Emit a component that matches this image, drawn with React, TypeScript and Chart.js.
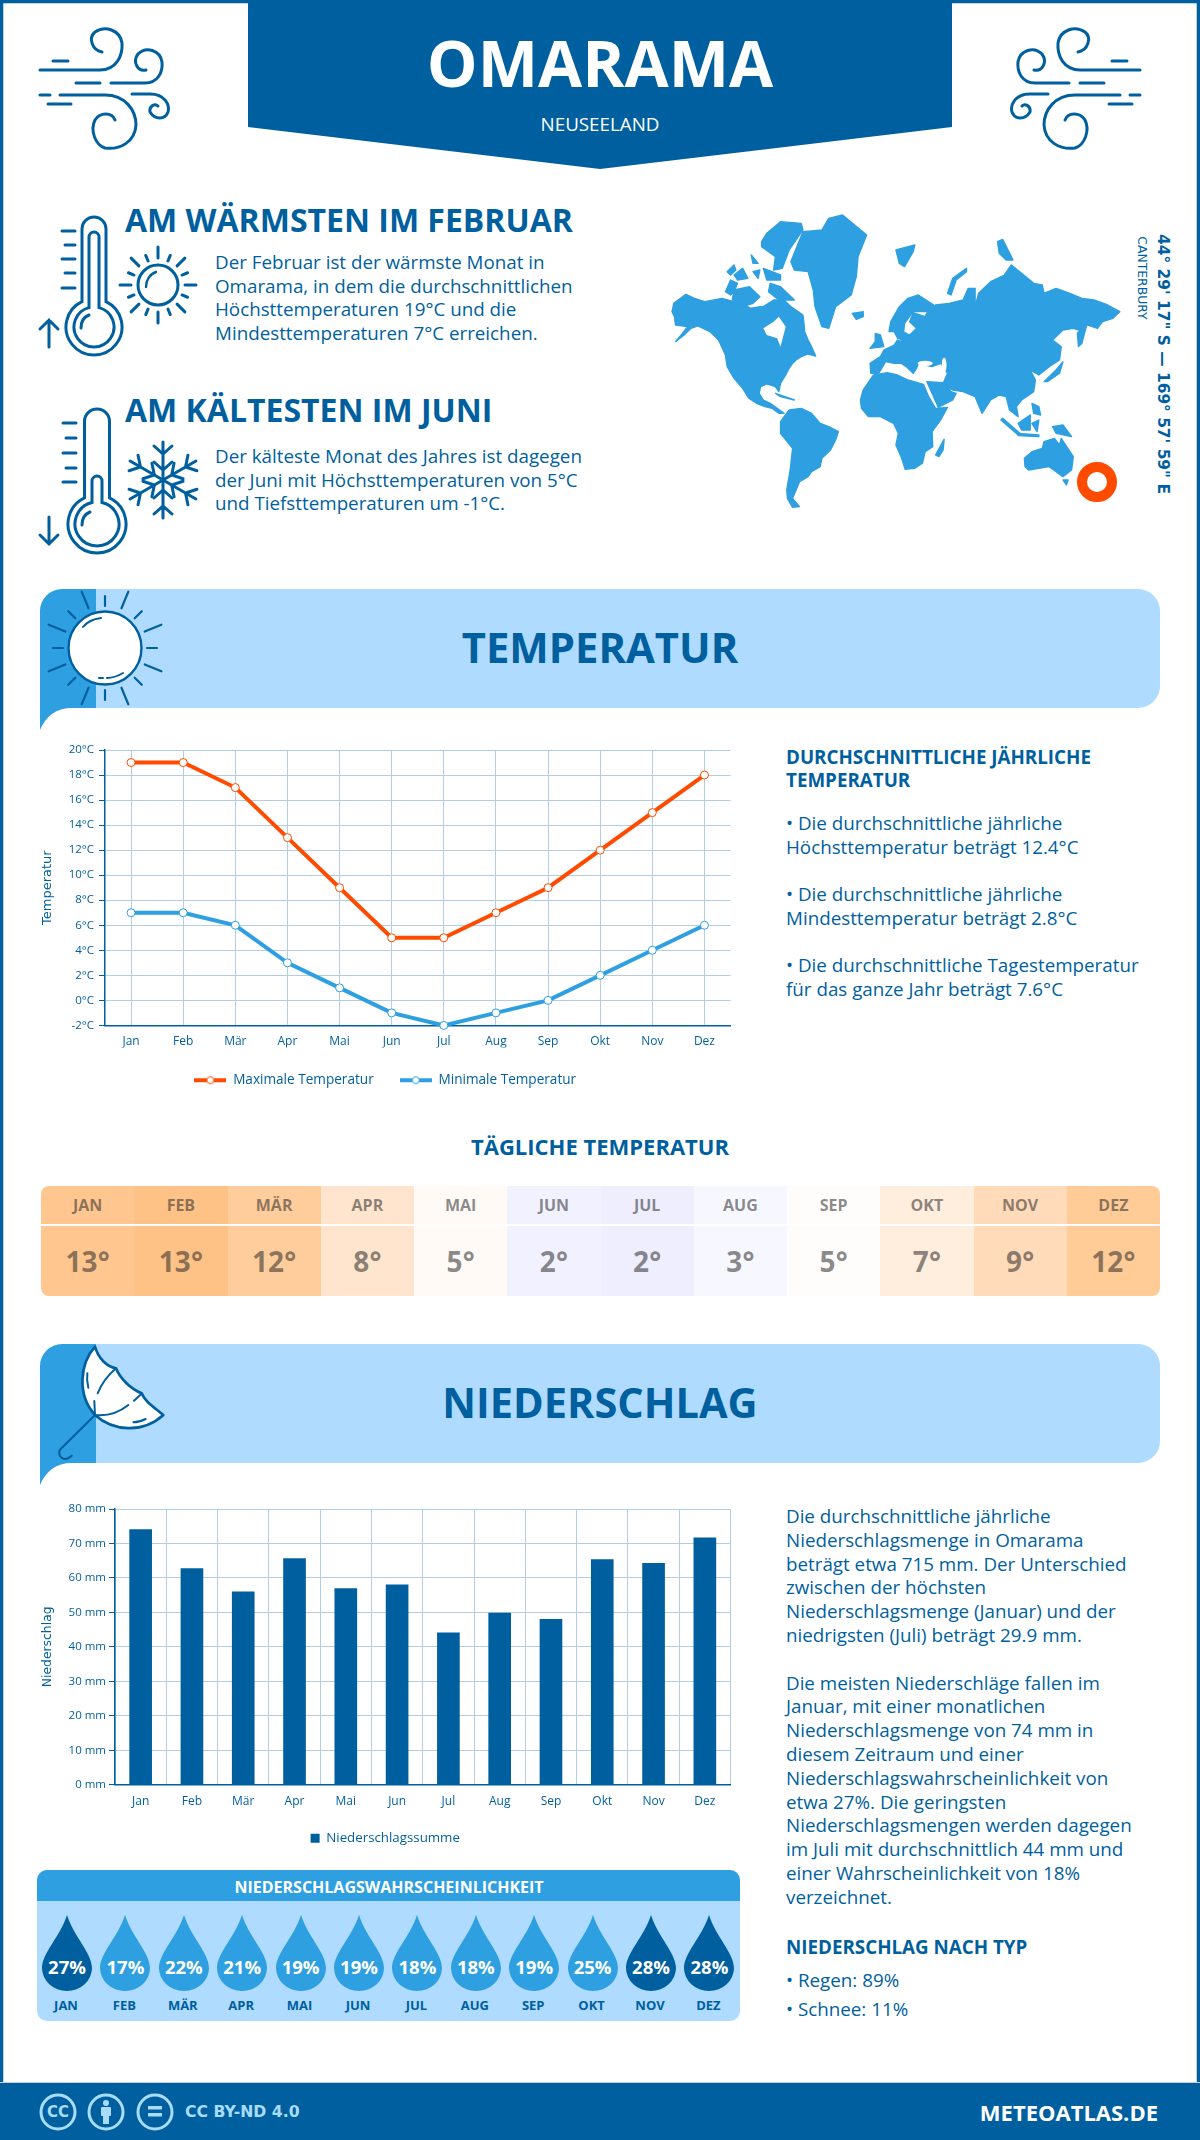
import React, { useEffect, useRef } from "react";
import { Chart, registerables } from "chart.js";
Chart.register(...registerables);

const months = ["Jan", "Feb", "Mär", "Apr", "Mai", "Jun", "Jul", "Aug", "Sep", "Okt", "Nov", "Dez"];
const monthsUpper = ["JAN", "FEB", "MÄR", "APR", "MAI", "JUN", "JUL", "AUG", "SEP", "OKT", "NOV", "DEZ"];
const maxTemp = [19, 19, 17, 13, 9, 5, 5, 7, 9, 12, 15, 18];
const minTemp = [7, 7, 6, 3, 1, -1, -2, -1, 0, 2, 4, 6];
const dailyTemp = [13, 13, 12, 8, 5, 2, 2, 3, 5, 7, 9, 12];
const dailyColors = ["#ffc68f", "#ffc286", "#ffcd9b", "#ffe5cd", "#fffaf5", "#f1f1ff", "#eeeeff", "#f7f7ff", "#fffdfb", "#ffeddd", "#ffdbb9", "#ffcb97"];
const precipitation = [74, 62.7, 56, 65.6, 56.9, 58, 44.1, 49.8, 48, 65.3, 64.2, 71.6];
const rainChance = [27, 17, 22, 21, 19, 19, 18, 18, 19, 25, 28, 28];

const DARK = "#005f9e";
const MID = "#2e9fe0";
const LIGHT = "#aedbff";
const ORANGE = "#ff4b00";
const GRID = "#b3cee0";
const FONT = "'Open Sans'";

function T({ x, y, s, w = 400, c = DARK, a = "left", f = FONT, children, rot = 0, ls }: any) {
  const tx = a === "center" ? "-50%" : a === "right" ? "-100%" : "0";
  return (
    <div
      style={{
        position: "absolute",
        left: x,
        top: y,
        fontFamily: f,
        fontSize: s,
        fontWeight: w,
        color: c,
        lineHeight: 1,
        whiteSpace: "nowrap",
        letterSpacing: ls,
        transform: rot ? `translate(-50%,-50%) rotate(${rot}deg)` : `translate(${tx},-50%)`,
      }}
    >
      {children}
    </div>
  );
}

function lineMarker(color: string) {
  const c = document.createElement("canvas");
  c.width = 32;
  c.height = 12;
  const g = c.getContext("2d")!;
  g.fillStyle = color;
  g.fillRect(0, 4, 32, 4);
  g.beginPath();
  g.arc(16, 6, 3.5, 0, Math.PI * 2);
  g.fillStyle = "#fff";
  g.fill();
  g.strokeStyle = color;
  g.lineWidth = 1;
  g.stroke();
  return c;
}

function TempChart() {
  const ref = useRef<HTMLCanvasElement>(null);
  useEffect(() => {
    const chart = new Chart(ref.current!, {
      type: "line",
      data: {
        labels: months,
        datasets: [
          { label: "Maximale Temperatur", data: maxTemp, borderColor: ORANGE, backgroundColor: "#fff", borderWidth: 4, pointRadius: 4, pointBorderWidth: 1, pointBackgroundColor: "#fff", pointBorderColor: ORANGE, tension: 0 },
          { label: "Minimale Temperatur", data: minTemp, borderColor: MID, backgroundColor: "#fff", borderWidth: 4, pointRadius: 4, pointBorderWidth: 1, pointBackgroundColor: "#fff", pointBorderColor: MID, tension: 0 },
        ],
      },
      options: {
        animation: false,
        responsive: false,
        clip: false as any,
        layout: { padding: { left: 10, right: 19.5, top: 20, bottom: 0 } },
        plugins: {
          tooltip: { enabled: false },
          legend: {
            position: "bottom",
            labels: {
              usePointStyle: true,
              pointStyleWidth: 32,
              boxHeight: 12,
              padding: 26,
              color: DARK,
              font: { family: FONT, size: 13.6 },
              generateLabels: () => [
                { text: "Maximale Temperatur", pointStyle: lineMarker(ORANGE), fontColor: DARK, lineWidth: 0, strokeStyle: "transparent", fillStyle: "transparent", datasetIndex: 0 },
                { text: "Minimale Temperatur", pointStyle: lineMarker(MID), fontColor: DARK, lineWidth: 0, strokeStyle: "transparent", fillStyle: "transparent", datasetIndex: 1 },
              ] as any,
            },
          },
        },
        scales: {
          x: {
            offset: true,
            grid: { color: GRID, drawTicks: false, offset: false },
            border: { color: DARK, width: 1.5 },
            ticks: { color: DARK, font: { family: FONT, size: 12 }, padding: 9, maxRotation: 0 },
            afterFit: (s: any) => { s.height = 22; },
          },
          y: {
            min: -2,
            max: 20,
            title: { display: true, text: "Temperatur", color: DARK, font: { family: "'DejaVu Sans'", size: 13 }, padding: 0 },
            grid: { color: GRID, tickColor: DARK, tickLength: 6 },
            border: { color: DARK, width: 1.5 },
            ticks: { stepSize: 2, color: DARK, font: { family: FONT, size: 11.5 }, padding: 5, callback: (v: any) => `${v}°C` },
            afterFit: (s: any) => { s.width = 65; },
          },
        },
      },
    });
    return () => chart.destroy();
  }, []);
  return <canvas ref={ref} width={720} height={367} style={{ position: "absolute", left: 30, top: 730 }} />;
}

function RainChart() {
  const ref = useRef<HTMLCanvasElement>(null);
  useEffect(() => {
    const chart = new Chart(ref.current!, {
      type: "bar",
      data: {
        labels: months,
        datasets: [{ label: "Niederschlagssumme", data: precipitation, backgroundColor: DARK, barThickness: 22 }],
      },
      options: {
        animation: false,
        responsive: false,
        layout: { padding: { left: 10, right: 19.5, top: 29, bottom: 0 } },
        plugins: {
          tooltip: { enabled: false },
          legend: {
            position: "bottom",
            labels: { boxWidth: 9, boxHeight: 9, padding: 16, color: DARK, font: { family: FONT, size: 13.3 } },
          },
        },
        scales: {
          x: {
            grid: { color: GRID, drawTicks: false, offset: true },
            border: { color: DARK, width: 1.5 },
            ticks: { color: DARK, font: { family: FONT, size: 12 }, padding: 10, maxRotation: 0 },
            afterFit: (s: any) => { s.height = 31; },
          },
          y: {
            min: 0,
            max: 80,
            title: { display: true, text: "Niederschlag", color: DARK, font: { family: "'DejaVu Sans'", size: 12.4 }, padding: 0 },
            grid: { color: GRID, tickColor: DARK, tickLength: 6 },
            border: { color: DARK, width: 1.5 },
            ticks: { stepSize: 10, color: DARK, font: { family: FONT, size: 11.5 }, padding: 3, callback: (v: any) => `${v} mm` },
            afterFit: (s: any) => { s.width = 75; },
          },
        },
      },
    });
    return () => chart.destroy();
  }, []);
  return <canvas ref={ref} width={720} height={375} style={{ position: "absolute", left: 30, top: 1480 }} />;
}

function Wind({ mirror }: { mirror?: boolean }) {
  return (
    <g transform={mirror ? "translate(1180 0) scale(-1 1)" : undefined} fill="none" stroke={DARK} strokeWidth={3} strokeLinecap="round">
      <path d="M40 70H100C116 70 123 56 122 43C120 30 105 25 95 32C88 38 92 50 102 52" />
      <path d="M53 61H68M76 83H100M111 83H145C158 83 163 72 162 62C160 50 146 46 138 54C132 62 138 72 146 70" />
      <path d="M40 95H50M60 95H105C125 95 136 110 136 125C135 142 120 150 105 148C95 145 90 130 95 120C100 112 112 112 115 120" />
      <path d="M132 94H150C165 94 170 105 168 112C165 120 155 120 150 112C149 106 155 103 158 106M48 104H71" />
    </g>
  );
}

function Thermo({ cx, cy, top, halfW, r, ir, tubeTop, tubeHalf, ticksX, ticks, arrow }: any) {
  const neckY = cy - Math.sqrt(r * r - halfW * halfW);
  const inNeck = cy - Math.sqrt(ir * ir - tubeHalf * tubeHalf);
  return (
    <g fill="none" stroke={DARK} strokeWidth={3} strokeLinecap="round">
      <path d={`M${cx - halfW} ${neckY}V${top + halfW}A${halfW} ${halfW} 0 0 1 ${cx + halfW} ${top + halfW}V${neckY}A${r} ${r} 0 1 1 ${cx - halfW} ${neckY}Z`} />
      <path d={`M${cx - tubeHalf} ${inNeck}V${tubeTop + tubeHalf}A${tubeHalf} ${tubeHalf} 0 0 1 ${cx + tubeHalf} ${tubeTop + tubeHalf}V${inNeck}A${ir} ${ir} 0 1 1 ${cx - tubeHalf} ${inNeck}Z`} />
      <path d={`M${cx - ir + 7} ${cy + 1}C${cx - ir + 7} ${cy - 5} ${cx - ir + 10} ${cy - 10} ${cx - ir + 15} ${cy - 12}`} />
      {ticks.map((y: number, i: number) => (
        <path key={i} d={`M${i % 2 ? ticksX + 3 : ticksX} ${y}H${ticksX + 13}`} />
      ))}
      {arrow === "up" ? <path d="M49 347V320M40 329L49 320L58 329" /> : <path d="M49 517V544M40 535L49 544L58 535" />}
    </g>
  );
}

function Rays({ cx, cy, r1s, r2s, r1l, r2l, w }: any) {
  return (
    <g stroke={DARK} strokeWidth={w} strokeLinecap="round">
      {Array.from({ length: 16 }, (_, i) => {
        const a = (i * 22.5 * Math.PI) / 180;
        const long = i % 2 === 1;
        const r1 = long ? r1l : r1s;
        const r2 = long ? r2l : r2s;
        return <line key={i} x1={cx + r1 * Math.sin(a)} y1={cy - r1 * Math.cos(a)} x2={cx + r2 * Math.sin(a)} y2={cy - r2 * Math.cos(a)} />;
      })}
    </g>
  );
}

function Snow({ cx, cy }: any) {
  return (
    <g stroke={DARK} strokeWidth={3} strokeLinecap="round" fill="none">
      {[0, 60, 120, 180, 240, 300].map((d) => (
        <g key={d} transform={`translate(${cx} ${cy}) rotate(${d})`}>
          <path d="M0 0V-38M-9 -34L0 -26L9 -34M-9 -18L0 -10L9 -18" />
        </g>
      ))}
    </g>
  );
}

const mapShapes = [
  "35,335 40,310 75,283 100,295 130,305 180,295 215,305 240,310 262,325 290,320 300,320 330,300 360,300 380,320 415,345 418,370 420,395 430,420 440,440 452,468 430,462 410,470 395,480 385,490 372,510 365,525 350,550 345,575 335,560 310,552 292,560 288,580 300,600 320,610 340,625 360,640 345,640 325,625 305,620 280,610 258,595 240,565 215,535 195,500 190,465 170,420 145,395 110,378 90,385 70,405 45,425 65,400 80,380 45,375 42,350",
  "350,665 375,630 410,625 440,640 465,670 490,680 518,695 510,720 495,750 470,775 465,800 440,815 430,830 405,845 395,870 385,895 405,920 385,922 370,895 368,870 378,810 385,745 350,700",
  "380,185 415,95 470,90 490,55 530,45 565,75 600,105 575,170 570,230 555,285 510,320 490,385 470,380 450,320 445,270 430,215 390,210",
  "310,100 350,65 410,70 415,90 375,150 355,205 330,210 335,170 295,140 295,125",
  "195,215 215,195 220,210 205,225",
  "215,225 240,205 255,235 225,240",
  "190,275 205,240 225,250 215,275 205,285",
  "265,165 285,190 270,190",
  "270,215 290,210 285,235",
  "300,205 350,225 350,240 310,240",
  "215,270 260,260 290,290 270,310 240,320 210,300",
  "320,250 350,260 390,300 345,300 315,275",
  "558,340 590,335 590,350 570,358",
  "625,400 640,405 650,440 610,445 625,425",
  "685,150 740,135 735,155 710,200 695,190",
  "835,280 850,235 890,205 890,215 860,240 845,285",
  "980,125 995,118 1025,180 1005,180 985,160",
  "1215,440 1212,400 1240,370 1225,430",
  "1115,545 1150,510 1170,485 1160,520 1125,545",
  "800,765 825,718 822,750 810,770",
  "995,655 1045,700 1040,705 990,660",
  "1040,700 1100,705 1100,710 1040,707",
  "1040,670 1075,645 1075,690 1050,690",
  "1080,670 1100,660 1095,695",
  "1140,680 1170,675 1195,710 1150,700",
  "1080,610 1100,620 1105,645 1085,640",
  "1170,840 1185,840 1180,855",
  "335,580 390,600 350,590",
  "612,520 610,490 640,470 650,450 680,435 690,420 700,425 705,395 725,405 745,385 725,365 735,338 770,350 782,325 800,315 840,310 880,300 895,265 915,265 915,320 925,280 960,245 1000,225 1020,195 1050,220 1085,250 1110,255 1115,280 1150,265 1190,280 1225,295 1260,300 1300,315 1335,335 1315,355 1285,365 1270,385 1240,375 1230,395 1200,385 1170,390 1140,420 1165,440 1160,480 1130,500 1100,525 1075,510 1090,540 1085,575 1050,600 1035,620 1040,650 1015,630 1005,590 985,585 960,600 935,640 915,590 880,575 850,570 820,555 835,520 815,490 790,500 750,490 745,505 735,520 715,500 700,490 680,490 655,485 635,520",
  "665,395 670,365 695,320 720,295 750,285 795,315 780,335 735,335 710,370 705,420 690,415 680,395",
  "582,600 590,570 620,525 660,518 690,525 720,540 765,553 780,590 800,625 835,622 815,660 790,695 792,740 770,755 762,790 740,805 712,808 700,770 685,735 692,700 678,670 640,650 605,650 585,625",
  "775,545 825,548 845,575 860,580 850,600 808,622",
  "1058,775 1080,755 1110,745 1115,725 1145,715 1160,735 1165,715 1200,770 1195,810 1170,830 1130,800 1070,810 1060,800",
];

function WorldMap() {
  return (
    <g transform="translate(660 200) scale(0.3444 0.3333)">
      {mapShapes.map((p, i) => (
        <polygon key={i} points={p} fill={MID} stroke={MID} strokeWidth={4} strokeLinejoin="round" />
      ))}
      <polygon points="300,385 330,365 345,350 365,380 360,400 350,440 340,415 310,405" fill="#fff" />
      <ellipse cx="770" cy="490" rx="22" ry="8" fill="#fff" />
      <ellipse cx="825" cy="495" rx="7" ry="22" fill="#fff" />
    </g>
  );
}

function Band({ y }: { y: number }) {
  const t = y;
  const b = y + 119;
  return (
    <g>
      <path d={`M62 ${t}H1138A22 22 0 0 1 1160 ${t + 22}V${b - 22}A22 22 0 0 1 1138 ${b}H96V${t}Z`} fill={LIGHT} />
      <path d={`M96 ${t}H62A22 22 0 0 0 40 ${t + 22}V${b + 22}C46 ${b + 8} 56 ${b} 72 ${b}H96Z`} fill={MID} />
    </g>
  );
}

function Umbrella() {
  return (
    <g transform="translate(30 1335) scale(0.3333)" stroke={DARK} strokeLinecap="round" strokeLinejoin="round" strokeWidth={8}>
      <path d="M195 35C150 85 140 180 195 240C250 290 340 295 400 240C370 215 345 200 335 175C300 160 270 130 258 100C230 95 205 70 195 35Z" fill="#fff" />
      <path fill="none" strokeWidth={6} d="M195 240C240 245 270 230 295 210M312 197L333 178M195 240L193 198M203 175C215 145 235 120 258 100M172 115C170 130 172 145 175 158M310 262C322 262 335 258 347 252M195 240L92 342C78 360 100 385 125 362" />
    </g>
  );
}

function Drop({ color }: { color: string }) {
  return (
    <svg width={50} height={76} style={{ position: "absolute", left: 0, top: 0 }}>
      <path d="M25 0C32 22 50 38 50 53A25 23 0 0 1 0 53C0 38 18 22 25 0Z" fill={color} />
    </svg>
  );
}

const tempBullets = [
  ["• Die durchschnittliche jährliche", "Höchsttemperatur beträgt 12.4°C"],
  ["• Die durchschnittliche jährliche", "Mindesttemperatur beträgt 2.8°C"],
  ["• Die durchschnittliche Tagestemperatur", "für das ganze Jahr beträgt 7.6°C"],
];
const rainParagraphs = [
  "Die durchschnittliche jährliche",
  "Niederschlagsmenge in Omarama",
  "beträgt etwa 715 mm. Der Unterschied",
  "zwischen der höchsten",
  "Niederschlagsmenge (Januar) und der",
  "niedrigsten (Juli) beträgt 29.9 mm.",
  "",
  "Die meisten Niederschläge fallen im",
  "Januar, mit einer monatlichen",
  "Niederschlagsmenge von 74 mm in",
  "diesem Zeitraum und einer",
  "Niederschlagswahrscheinlichkeit von",
  "etwa 27%. Die geringsten",
  "Niederschlagsmengen werden dagegen",
  "im Juli mit durchschnittlich 44 mm und",
  "einer Wahrscheinlichkeit von 18%",
  "verzeichnet.",
];

export default function App() {
  return (
    <div style={{ position: "relative", width: 1200, height: 2140, background: "#fff", overflow: "hidden", fontFamily: FONT }}>
      <style>{`html,body{margin:0;padding:0;background:#fff}`}</style>
      <svg width={1200} height={2140} style={{ position: "absolute", left: 0, top: 0 }}>
        <rect x={1.5} y={1.5} width={1197} height={2137} fill="none" stroke={DARK} strokeWidth={3.5} />
        <polygon points="248,0 952,0 952,127 600,169 248,127" fill={DARK} />
        <Wind />
        <Wind mirror />
        <Thermo cx={94} cy={327} top={217} halfW={12} r={28} ir={20} tubeTop={232} tubeHalf={5} ticksX={62} ticks={[231, 245, 259, 273, 288]} arrow="up" />
        <circle cx={158} cy={285} r={20} fill="none" stroke={DARK} strokeWidth={3} />
        <path d="M146 287C146 280 150 274 156 272" fill="none" stroke={DARK} strokeWidth={2.4} strokeLinecap="round" />
        <Rays cx={158} cy={285} r1s={27} r2s={38} r1l={26} r2l={32} w={3} />
        <Thermo cx={97} cy={524} top={409} halfW={12.5} r={29} ir={22} tubeTop={476} tubeHalf={5} ticksX={63} ticks={[423, 438, 453, 468, 482]} arrow="down" />
        <Snow cx={163} cy={480} />
        <WorldMap />
        <circle cx={1097} cy={482} r={15} fill="none" stroke={ORANGE} strokeWidth={10} />
        <Band y={589} />
        <circle cx={105} cy={648} r={36.5} fill="#fff" stroke={DARK} strokeWidth={2.4} />
        <Rays cx={105} cy={648} r1s={42} r2s={52} r1l={43} r2l={61} w={2.2} />
        <path d="M83 627C87 622 93 619 101 618M99 678H103M107 678C113 678 118 676 123 673" fill="none" stroke={DARK} strokeWidth={2} strokeLinecap="round" />
        <Band y={1344} />
        <Umbrella />
        <rect x={37} y={1870} width={703} height={151} rx={10} fill={LIGHT} />
        <path d="M37 1901V1880A10 10 0 0 1 47 1870H730A10 10 0 0 1 740 1880V1901Z" fill={MID} />
        <rect x={0} y={2083} width={1200} height={57} fill={DARK} />
        <rect x={0} y={2082} width={1200} height={1} fill="#ccd" />
        <g fill="none" stroke="#a9dcfb" strokeWidth={3}>
          <circle cx={58} cy={2112} r={17} />
          <circle cx={106} cy={2112} r={17} />
          <circle cx={155} cy={2112} r={17} />
        </g>
        <g fill="#a9dcfb">
          <circle cx={106} cy={2103} r={3} />
          <rect x={101} y={2107} width={10} height={9} rx={1} />
          <rect x={103} y={2116} width={6} height={8} />
          <rect x={148} y={2106} width={14} height={3.5} />
          <rect x={148} y={2113} width={14} height={3.5} />
        </g>
      </svg>

      <T x={600} y={63} s={64} w={700} c="#fff" a="center">OMARAMA</T>
      <T x={600} y={124} s={18.8} c="#fff" a="center">NEUSEELAND</T>

      <T x={125} y={220} s={32} w={700}>AM WÄRMSTEN IM FEBRUAR</T>
      {["Der Februar ist der wärmste Monat in", "Omarama, in dem die durchschnittlichen", "Höchsttemperaturen 19°C und die", "Mindesttemperaturen 7°C erreichen."].map((l, i) => (
        <T key={i} x={215} y={262 + i * 23.7} s={18.8}>{l}</T>
      ))}
      <T x={125} y={410} s={32} w={700}>AM KÄLTESTEN IM JUNI</T>
      {["Der kälteste Monat des Jahres ist dagegen", "der Juni mit Höchsttemperaturen von 5°C", "und Tiefsttemperaturen um -1°C."].map((l, i) => (
        <T key={i} x={215} y={456 + i * 23.7} s={18.8}>{l}</T>
      ))}

      <T x={1162} y={364} s={15.4} w={700} f="'DejaVu Sans'" rot={90}>{`44° 29' 17" S — 169° 57' 59" E`}</T>
      <T x={1142} y={278} s={12.4} f="'DejaVu Sans'" rot={90}>CANTERBURY</T>

      <T x={600} y={647} s={41.8} w={700} a="center">TEMPERATUR</T>
      <TempChart />

      <T x={786} y={757} s={18.8} w={700}>DURCHSCHNITTLICHE JÄHRLICHE</T>
      <T x={786} y={780} s={18.8} w={700}>TEMPERATUR</T>
      {tempBullets.map((pair, i) =>
        pair.map((l, j) => (
          <T key={`${i}-${j}`} x={786} y={823 + i * 71 + j * 23.5} s={18.8}>{l}</T>
        ))
      )}

      <T x={600} y={1146} s={22} w={700} a="center">TÄGLICHE TEMPERATUR</T>
      <div style={{ position: "absolute", left: 41, top: 1186, width: 1119, height: 110, borderRadius: 8, overflow: "hidden", display: "flex" }}>
        {monthsUpper.map((m, i) => (
          <div key={m} style={{ flex: 1, background: dailyColors[i], position: "relative", color: "rgba(40,40,40,0.55)", fontWeight: 700, textAlign: "center" }}>
            <div style={{ position: "absolute", left: 0, right: 0, top: 0, height: 38, lineHeight: "38px", fontSize: 16 }}>{m}</div>
            <div style={{ position: "absolute", left: 0, right: 0, top: 38, height: 2, background: "#fff" }} />
            <div style={{ position: "absolute", left: 0, right: 0, top: 40, height: 70, lineHeight: "70px", fontSize: 28 }}>{dailyTemp[i]}°</div>
          </div>
        ))}
      </div>

      <T x={600} y={1403} s={41.5} w={700} a="center">NIEDERSCHLAG</T>
      <RainChart />

      <T x={389} y={1887} s={16} w={700} c="#fff" a="center">NIEDERSCHLAGSWAHRSCHEINLICHKEIT</T>
      {rainChance.map((p, i) => {
        const cx = 67 + i * 58.4;
        return (
          <React.Fragment key={i}>
            <div style={{ position: "absolute", left: cx - 25, top: 1915, width: 50, height: 76 }}>
              <Drop color={p >= 26 ? DARK : MID} />
            </div>
            <T x={cx} y={1967} s={18.5} w={700} c="#fff" a="center">{p}%</T>
            <T x={cx - 1} y={2005} s={13} w={700} a="center">{monthsUpper[i]}</T>
          </React.Fragment>
        );
      })}

      {rainParagraphs.map((l, i) => (
        <T key={i} x={786} y={1516 + i * 23.8} s={18.8}>{l}</T>
      ))}
      <T x={786} y={1947} s={18.8} w={700}>NIEDERSCHLAG NACH TYP</T>
      <T x={786} y={1980} s={18.8}>• Regen: 89%</T>
      <T x={786} y={2009} s={18.8}>• Schnee: 11%</T>

      <T x={58} y={2112} s={15} w={700} f="'DejaVu Sans'" c="#a9dcfb" a="center">CC</T>
      <T x={185} y={2112} s={15.7} w={700} f="'DejaVu Sans'" c="#a9dcfb">CC BY-ND 4.0</T>
      <T x={1158} y={2112} s={22} w={700} c="#fff" a="right">METEOATLAS.DE</T>
    </div>
  );
}
